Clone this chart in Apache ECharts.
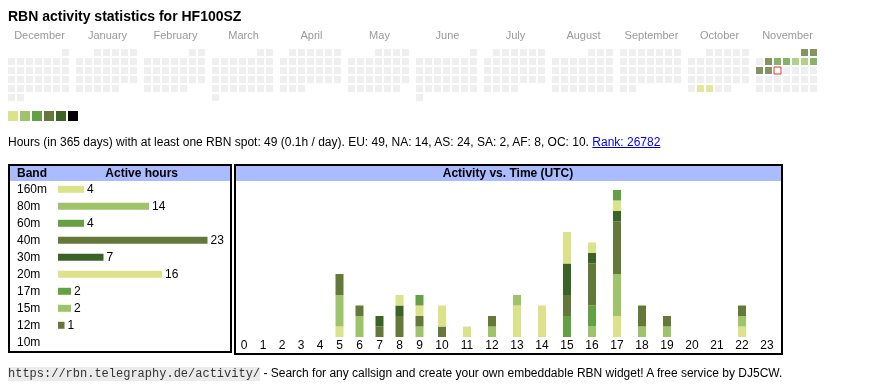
<!DOCTYPE html>
<html><head><meta charset="utf-8">
<script src="https://cdn.jsdelivr.net/npm/echarts@6/dist/echarts.min.js"></script>
<style>
html,body{margin:0;padding:0;background:#fff;width:870px;height:390px;overflow:hidden;}
#chart{position:absolute;left:0;top:0;width:870px;height:390px;}
.t{position:absolute;font-family:"Liberation Sans",Arial,sans-serif;white-space:nowrap;color:#000;}
</style></head><body>
<div id="chart"></div>
<div class="t" style="left:8px;top:9px;font-size:14px;font-weight:bold;line-height:14px;">RBN activity statistics for HF100SZ</div>
<div class="t" style="left:8px;top:136px;font-size:12px;line-height:12px;">Hours (in 365 days) with at least one RBN spot: 49 (0.1h / day). EU: 49, NA: 14, AS: 24, SA: 2, AF: 8, OC: 10. <span style="color:#00e;text-decoration:underline">Rank: 26782</span></div>
<div class="t" style="left:8px;top:366px;font-size:12px;line-height:15px;"><span style="font-family:'Liberation Mono',monospace;font-size:12px;background:#ebebeb;color:#333;">https://rbn.telegraphy.de/activity/</span> - Search for any callsign and create your own embeddable RBN widget! A free service by DJ5CW.</div>
<script>
// ---- calendar data ----
const monthNames = ['December','January','February','March','April','May','June','July','August','September','October','November'];
const monthKeys = ['2024-12','2025-01','2025-02','2025-03','2025-04','2025-05','2025-06','2025-07','2025-08','2025-09','2025-10','2025-11'];
const activeDays = ['2025-10-28','2025-10-29','2025-11-01','2025-11-02','2025-11-04','2025-11-05','2025-11-06','2025-11-07','2025-11-08','2025-11-09','2025-11-10','2025-11-11'];
const activeDayHours = [1,1,6,6,6,4,4,2,2,4,7,6];
const today = '2025-11-12';
const legendColors = ['#dbe28a','#9ec46a','#66a044','#64783a','#3b6326','#000000'];

// ---- band table ----
const bands = ['160m','80m','60m','40m','30m','20m','17m','15m','12m','10m'];
const bandHours = [4,14,4,23,7,16,2,2,1,0];
const bandColors = ['#dbe28a','#9ec46a','#66a044','#64783a','#3b6326','#dbe28a','#66a044','#9ec46a','#64783a','#3b6326'];

// ---- activity vs time ----
const hourLabels = ['0','1','2','3','4','5','6','7','8','9','10','11','12','13','14','15','16','17','18','19','20','21','22','23'];
const act160m = [0,0,0,0,0,1,0,0,0,0,0,1,0,0,0,0,0,2,0,0,0,0,0,0];
const act80m  = [0,0,0,0,0,3,2,0,0,1,0,0,1,0,0,0,1,4,1,1,0,0,0,0];
const act60m  = [0,0,0,0,0,0,0,0,0,0,0,0,0,0,0,2,2,0,0,0,0,0,0,0];
const act40m  = [0,0,0,0,0,2,1,1,2,1,1,0,1,0,0,2,4,5,2,1,0,0,0,0];
const act30m  = [0,0,0,0,0,0,0,1,1,0,0,0,0,0,0,3,1,1,0,0,0,0,0,0];
const act20m  = [0,0,0,0,0,0,0,0,1,1,2,0,0,3,3,3,1,1,0,0,0,0,1,0];
const act17m  = [0,0,0,0,0,0,0,0,0,1,0,0,0,0,0,0,0,1,0,0,0,0,0,0];
const act15m  = [0,0,0,0,0,0,0,0,0,0,0,0,0,1,0,0,0,0,0,0,0,0,1,0];
const act12m  = [0,0,0,0,0,0,0,0,0,0,0,0,0,0,0,0,0,0,0,0,0,0,1,0];
const act10m  = [0,0,0,0,0,0,0,0,0,0,0,0,0,0,0,0,0,0,0,0,0,0,0,0];
const actByBand = [act160m,act80m,act60m,act40m,act30m,act20m,act17m,act15m,act12m,act10m];

const FONT = '"Liberation Sans", Arial, sans-serif';
const chart = echarts.init(document.getElementById('chart'), null, {renderer:'canvas', devicePixelRatio:1});

// calendars
const calLeft0 = 7, calPitch = 68, calTop = 48, cell = 9;
const activeMap = {};
activeDays.forEach((d,i)=>{ activeMap[d] = activeDayHours[i]; });
function pad(n){ return (n<10?'0':'')+n; }
const calendars = [], calSeries = [];
monthKeys.forEach((m,i)=>{
  calendars.push({orient:'vertical', left: calLeft0 + calPitch*i, top: calTop, cellSize:[cell,cell], range:m,
    splitLine:{show:false}, itemStyle:{color:'rgba(0,0,0,0)', borderWidth:0, borderColor:'rgba(0,0,0,0)'},
    dayLabel:{show:false, firstDay:1}, monthLabel:{show:false}, yearLabel:{show:false}, silent:true});
  const y = +m.slice(0,4), mo = +m.slice(5,7);
  const nDays = new Date(y, mo, 0).getDate();
  const data = [];
  for (let d=1; d<=nDays; d++){ const ds = m+'-'+pad(d); data.push([ds, activeMap[ds] || 0]); }
  calSeries.push({type:'scatter', coordinateSystem:'calendar', calendarIndex:i, symbol:'rect', symbolSize:7, data, silent:true, animation:false});
});
const todayCal = monthKeys.indexOf(today.slice(0,7));
const todaySeries = {type:'scatter', coordinateSystem:'calendar', calendarIndex:todayCal, symbol:'rect', symbolSize:7,
  itemStyle:{color:'#ffffff', borderColor:'#ee0000', borderWidth:1}, data:[[today,0]], silent:true, animation:false, z:5};

// activity column layout (table-like: wider columns for two-digit hours)
const hourTotals = hourLabels.map((_,h)=> actByBand.reduce((s,a)=>s+a[h],0));
const colW = hourLabels.map((l,h)=> l.length===1 ? (hourTotals[h]>0 ? 20 : 19) : 25);
const colX = []; let acc = -1.5; colW.forEach(w=>{ colX.push(acc + w/2); acc += w; });

// stacked segments (bottom-to-top in band order)
const running = hourLabels.map(()=>0);
const actSeries = bands.map((b,bi)=>{
  const data = [];
  actByBand[bi].forEach((v,h)=>{ if (v>0){ data.push([colX[h], running[h], running[h]+v]); running[h]+=v; } });
  const color = bandColors[bi];
  return {type:'custom', name:b, xAxisIndex:1, yAxisIndex:1, silent:true, animation:false,
    encode:{x:0, y:[1,2]}, data,
    renderItem:(params, api)=>{
      const x = api.value(0), y0 = api.value(1), y1 = api.value(2);
      const p0 = api.coord([x, y0]), p1 = api.coord([x, y1]);
      return {type:'rect', shape:{x:p0[0]-4, y:p1[1], width:8, height:p0[1]-p1[1]}, style:{fill:color}};
    }};
});

const graphics = [];
graphics.push({type:'rect', shape:{x:10,y:166,width:220,height:15}, style:{fill:'#aabbff'}, z:1});
graphics.push({type:'rect', shape:{x:236,y:166,width:545,height:15}, style:{fill:'#aabbff'}, z:1});
graphics.push({type:'rect', shape:{x:9,y:165,width:222,height:187}, style:{fill:null, stroke:'#000', lineWidth:2}, z:2});
graphics.push({type:'rect', shape:{x:235,y:165,width:547,height:189}, style:{fill:null, stroke:'#000', lineWidth:2}, z:2});
graphics.push({type:'text', x:17, y:173.5, style:{text:'Band', font:'bold 12px '+FONT, fill:'#000', verticalAlign:'middle'}, z:3});
graphics.push({type:'text', x:141.7, y:173.5, style:{text:'Active hours', font:'bold 12px '+FONT, fill:'#000', align:'center', verticalAlign:'middle'}, z:3});
graphics.push({type:'text', x:508, y:173.5, style:{text:'Activity vs. Time (UTC)', font:'bold 12px '+FONT, fill:'#000', align:'center', verticalAlign:'middle'}, z:3});
monthNames.forEach((n,i)=>{
  graphics.push({type:'text', x: calLeft0 + calPitch*i + 32.5, y:35.5, style:{text:n, font:'11px '+FONT, fill:'#999', align:'center', verticalAlign:'middle'}, z:3});
});

const option = {
  animation:false,
  textStyle:{fontFamily:FONT},
  calendar: calendars,
  visualMap: {
    type:'piecewise', seriesIndex: calSeries.map((_,i)=>i), orient:'horizontal', left:8, top:111,
    itemWidth:10, itemHeight:10, itemGap:2, itemSymbol:'rect', showLabel:false, padding:0, selectedMode:false,
    pieces:[{min:1,max:1,color:legendColors[0]},{min:2,max:3,color:legendColors[1]},{min:4,max:5,color:legendColors[2]},
            {min:6,max:9,color:legendColors[3]},{min:10,max:14,color:legendColors[4]},{min:15,color:legendColors[5]}],
    outOfRange:{color:'#ebebeb'}
  },
  grid:[
    {left:58, top:180.8, width:156, height:170, show:false},
    {left:236, top:179.5, width:545, height:157.5, show:false}
  ],
  xAxis:[
    {gridIndex:0, type:'value', min:0, max:24, show:false},
    {gridIndex:1, type:'value', min:0, max:545, axisLine:{show:false}, axisTick:{show:false}, splitLine:{show:false},
     axisLabel:{customValues:colX, margin:3, fontSize:12, color:'#000', fontFamily:FONT,
       formatter:(v)=>{ let bi=0, bd=1e9; colX.forEach((x,i)=>{ const d=Math.abs(x-v); if(d<bd){bd=d;bi=i;} }); return hourLabels[bi]; }}}
  ],
  yAxis:[
    {gridIndex:0, type:'category', inverse:true, data:bands, axisLine:{show:false}, axisTick:{show:false}, splitLine:{show:false},
     axisLabel:{align:'left', margin:41, fontSize:12, color:'#000', fontFamily:FONT}},
    {gridIndex:1, type:'value', min:0, max:15, show:false}
  ],
  graphic: graphics,
  series: [
    ...calSeries,
    todaySeries,
    {type:'bar', xAxisIndex:0, yAxisIndex:0, barWidth:7, silent:true, animation:false,
     data: bandHours.map((v,i)=>({value:v, itemStyle:{color:bandColors[i]}})),
     label:{show:true, position:'right', distance:3, fontSize:12, color:'#000', fontFamily:FONT, formatter:(p)=> p.value>0 ? String(p.value) : ''}},
    ...actSeries
  ]
};
chart.setOption(option);
</script>
</body></html>
